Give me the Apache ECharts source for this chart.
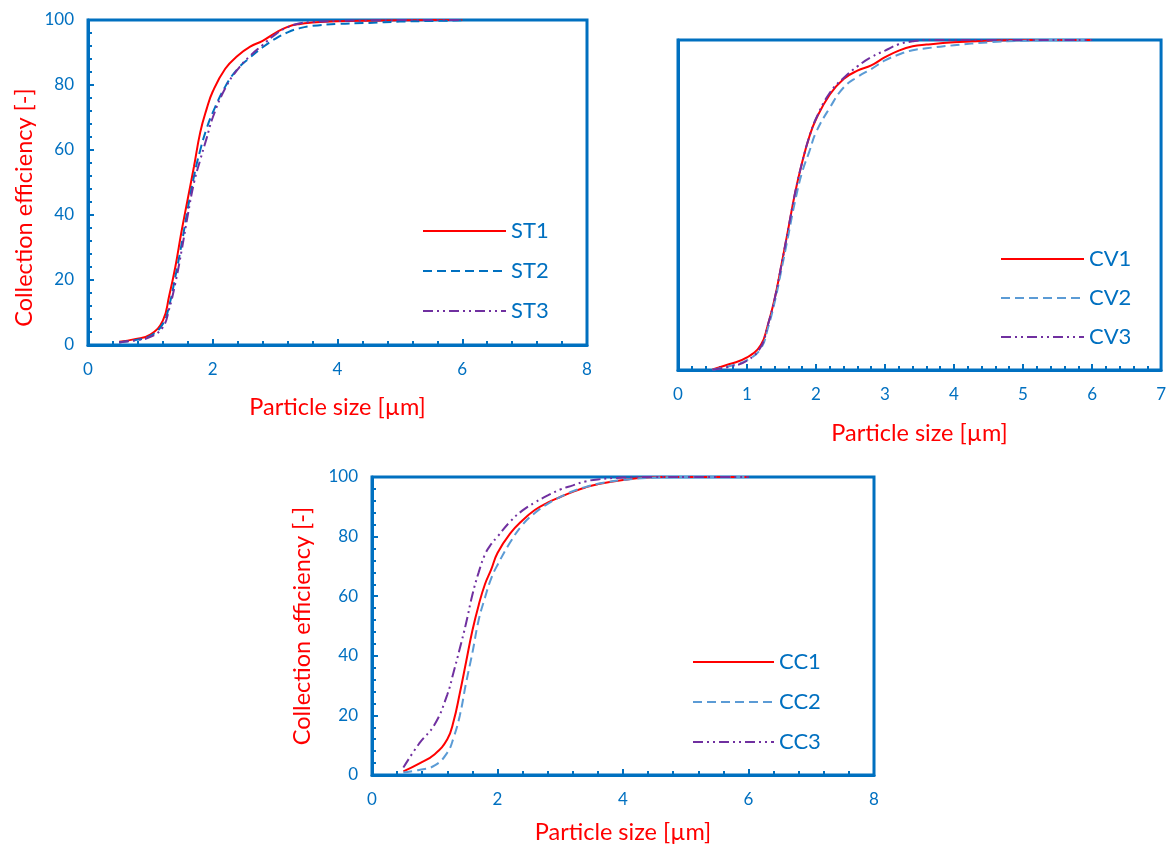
<!DOCTYPE html>
<html><head><meta charset="utf-8">
<script src="https://cdn.jsdelivr.net/npm/echarts@6/dist/echarts.min.js"></script>
<style>html,body{margin:0;padding:0;background:#fff}#c{width:1169px;height:845px}</style>
</head><body><div id="c"></div>
<script>
// particle size grid [µm]
const sizes = [0.5,0.75,1.0,1.2,1.3,1.4,1.5,1.6,1.7,1.8,1.9,2.0,2.2,2.4,2.6,2.8,3.0,3.2,3.4,3.6,4.0,4.5,5.0,5.5,6.0];
// collection efficiency [-]
const st1 = [1.0,1.8,3.2,7.5,15,24,35,45,55,65.5,72.5,78,85,89,91.8,93.6,96,97.9,98.8,99.2,99.6,99.8,99.9,100,100];
const st2 = [0.8,1.5,2.8,6.5,12,21,31,42,52,60,66.5,71.5,79.5,85,88.5,91.6,94.2,96.2,97.5,98.2,98.8,99.1,99.5,99.7,99.9];
const st3 = [0.8,1.4,2.5,5.5,11,19,29,40,50,57,63.5,70,79,84.8,89,92.3,95.5,97.8,99,99.4,99.7,99.9,100,100,100];
const cv1 = [0.2,1.8,3.8,7.6,13.5,21.5,32,43,54,63,70.5,76,83.5,88.2,90.7,92.3,94.8,96.8,98.1,98.6,99.3,99.8,100,100,100];
const cv2 = [0.1,1.2,3.0,6.5,12.5,20.5,30.5,41,51.5,60,66,72,79.5,85.6,88.8,91.2,93.8,95.6,96.9,97.5,98.4,99.3,99.8,100,100];
const cv3 = [0.1,1.0,2.8,7.0,13.5,21.5,32,43,54,63,70.5,76.2,84,88.5,92,94.8,96.8,98.7,99.6,100,100,100,100,100,100];
const cc1 = [1.2,3.8,7,12,18,27.5,38,48.5,57,64,69,74.5,81,85.5,89,91.4,93.3,95,96.5,97.6,99,100,100,100,100];
const cc2 = [0.8,1.7,3.2,7.5,12.5,20,31,41,52,59.5,66,70.5,78,84,88,91,93.3,95.2,96.6,97.7,99,99.8,100,100,100];
const cc3 = [2.5,10.5,17,27,34.5,42.5,51,60.5,68,74,77.5,80,85,88.8,91.5,93.8,95.8,97.2,98.5,99.2,99.8,100,100,100,100];

const xTitle = 'Particle size [µm]';
const yTitle = 'Collection efficiency [-]';

const BLUE = '#0070C0', RED = '#FF0000', PURPLE = '#7030A0', LBLUE = '#5B9BD5';
const FONT = 'Lato';
const DASH = [9,5];
const DASHDOTDOT = [10,4,2,4,2,4];

function pts(arr){ return sizes.map((x,i)=>[x,arr[i]]); }

const grids = [
  {left:88, top:20, width:499, height:325, show:true, borderColor:BLUE, borderWidth:3},
  {left:678, top:40, width:485, height:330, show:true, borderColor:BLUE, borderWidth:3},
  {left:372, top:477, width:502, height:298, show:true, borderColor:BLUE, borderWidth:3}
];

function xAxis(gi, max, interval, nameGap){
  return {type:'value', gridIndex:gi, min:0, max:max, interval:interval,
    name:xTitle, nameLocation:'middle', nameGap:nameGap,
    nameTextStyle:{color:RED, fontFamily:FONT, fontSize:23.5},
    axisLine:{show:true, onZero:false, lineStyle:{color:BLUE, width:3}},
    axisTick:{show:true, inside:true, length:6, lineStyle:{color:BLUE, width:2}},
    minorTick:{show:true, splitNumber:5, length:4, lineStyle:{color:BLUE, width:2}},
    axisLabel:{color:BLUE, fontFamily:FONT, fontSize:17, margin:16},
    splitLine:{show:false}};
}
function yAxis(gi, showLabels, nameGap, shift){
  return {type:'value', gridIndex:gi, min:0, max:100, interval:20,
    name:showLabels?yTitle:'', nameLocation:'middle', nameGap:nameGap,
    nameTextStyle:{color:RED, fontFamily:FONT, fontSize:23.5, padding:[0,shift||0,0,0]},
    axisLine:{show:true, lineStyle:{color:BLUE, width:3}},
    axisTick:{show:showLabels, inside:true, length:6, lineStyle:{color:BLUE, width:2}},
    minorTick:{show:showLabels, splitNumber:5, length:4, lineStyle:{color:BLUE, width:2}},
    axisLabel:{show:showLabels, color:BLUE, fontFamily:FONT, fontSize:17, margin:14},
    splitLine:{show:false}};
}
function line(name, gi, arr, color, dash){
  return {name:name, type:'line', xAxisIndex:gi, yAxisIndex:gi, data:pts(arr),
    showSymbol:false, symbol:'circle', smooth:0.45,
    lineStyle:{color:color, width:2, type:dash||'solid'},
    itemStyle:{color:'rgba(0,0,0,0)', borderWidth:0},
    emphasis:{disabled:true}};
}
function mkLegend(names, left, top, width, gap){
  return {data:names, orient:'vertical', left:left, top:top, padding:0,
    itemWidth:width, itemHeight:22, itemGap:gap,
    textStyle:{color:BLUE, fontFamily:FONT, fontSize:22}, selectedMode:false};
}

const chart = echarts.init(document.getElementById('c'));
chart.setOption({
  animation:false,
  backgroundColor:'#fff',
  grid:grids,
  xAxis:[xAxis(0,8,2,50), xAxis(1,7,1,51), xAxis(2,8,2,45)],
  yAxis:[yAxis(0,true,52,50), yAxis(1,false,40), yAxis(2,true,58)],
  legend:[
    mkLegend(['ST1','ST2','ST3'], 422, 220, 83, 18),
    mkLegend(['CV1','CV2','CV3'], 1000, 248, 83, 17),
    mkLegend(['CC1','CC2','CC3'], 692, 651, 81, 18)
  ],
  series:[
    line('ST1',0,st1,RED), line('ST2',0,st2,BLUE,DASH), line('ST3',0,st3,PURPLE,DASHDOTDOT),
    line('CV1',1,cv1,RED), line('CV2',1,cv2,LBLUE,DASH), line('CV3',1,cv3,PURPLE,DASHDOTDOT),
    line('CC1',2,cc1,RED), line('CC2',2,cc2,LBLUE,DASH), line('CC3',2,cc3,PURPLE,DASHDOTDOT)
  ]
});
</script></body></html>
